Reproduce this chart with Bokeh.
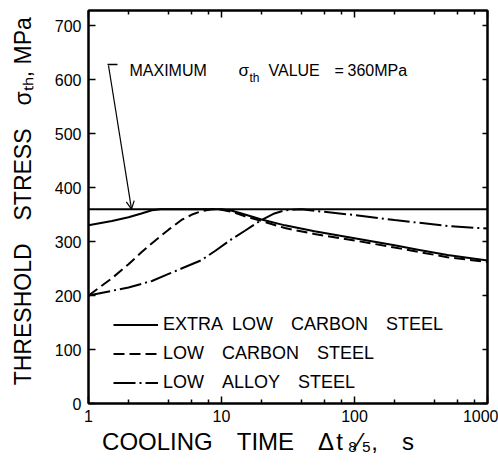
import numpy as np
from bokeh.plotting import figure
from bokeh.models import (LogAxis, LinearAxis, FixedTicker, Span, Label, Arrow, OpenHead,
                          Legend, LegendItem, CustomJSTickFormatter)
from bokeh.embed import file_html
from bokeh.resources import INLINE

# ---------------- data ----------------
elc_t = [1, 1.5, 2, 2.5, 3, 3.5, 5, 8, 10, 12, 15, 20, 30, 50, 100, 200, 300, 500, 1000]
elc_s = [330, 338, 345, 352, 358, 360, 360, 360, 360, 357, 350, 341, 330, 319, 306, 293, 285, 275, 265]

lc_t = [1, 1.5, 2, 2.5, 3, 4, 5, 6, 7, 8.5, 10, 12, 15, 20, 30, 50, 100, 200, 300, 500, 1000]
lc_s = [200, 232, 258, 280, 297, 322, 340, 350, 356, 360, 359, 355, 347, 338, 325, 314, 302, 289, 281, 271, 262]

la_t = [1, 2, 3, 4, 5, 7, 9, 12, 15, 20, 25, 30, 40, 50, 100, 200, 300, 500, 1000]
la_s = [200, 215, 227, 240, 250, 265, 283, 305, 320, 340, 352, 358, 360, 357, 349, 340, 335, 329, 324]

series_names = ["EXTRA\u2002LOW\u2003CARBON\u2003STEEL",
                "LOW\u2003CARBON\u2003STEEL",
                "LOW\u2003ALLOY\u2003STEEL"]

MAX_STH = 360
X_TICKS = [1, 10, 100, 1000]
X_TICK_LABELS = ["1", "10", "100", "1000"]
X_MINOR = [2, 4, 6, 8, 20, 40, 60, 80, 200, 400, 600, 800]
Y_TICKS = [0, 100, 200, 300, 400, 500, 600, 700]
X_MIN, X_MAX = 1, 1000
Y_MIN, Y_MAX = 0, 728

X_TITLE = ("COOLING\u2003TIME\u2003\u0394\u200at\u2009\u2088\u2044\u2085,\u2003s"
           + "\u2003\u2003\u2002")
Y_TITLE = "\u2002THRESHOLD\u2003STRESS\u2003\u03c3\u209c\u2095, MPa"

FONT = "Liberation Sans"
W, H = 498, 466

# frame geometry (pixels) used to place annotation text
FL, FR, FT, FB = 88, 487, 10, 403


def dx(px):
    return 10 ** ((px - FL) / (FR - FL) * np.log10(X_MAX / X_MIN)) * X_MIN


def dy(py):
    return Y_MIN + (FB - py) / (FB - FT) * (Y_MAX - Y_MIN)


p = figure(width=W, height=H, x_axis_type="log",
           x_range=(X_MIN, X_MAX), y_range=(Y_MIN, Y_MAX),
           output_backend="svg", toolbar_location=None,
           min_border_left=FL, min_border_right=W - FR,
           min_border_top=FT, min_border_bottom=H - FB,
           background_fill_color="white", border_fill_color="white")
p.grid.visible = False
p.outline_line_color = "black"
p.outline_line_width = 2

label_map = dict(zip([str(t) for t in X_TICKS], X_TICK_LABELS))
xa = p.xaxis[0]
xa.ticker = FixedTicker(ticks=X_TICKS, minor_ticks=X_MINOR)
xa.formatter = CustomJSTickFormatter(args=dict(m=label_map),
                                     code="const k = String(Math.round(tick)); return (k in m) ? m[k] : '';")
ya = p.yaxis[0]
ya.ticker = FixedTicker(ticks=Y_TICKS)

for ax in (xa, ya):
    ax.axis_line_width = 2
    ax.major_tick_in = 7
    ax.major_tick_out = 0
    ax.minor_tick_in = 4
    ax.minor_tick_out = 0
    ax.major_tick_line_width = 1.5
    ax.minor_tick_line_width = 1.5
    ax.major_label_text_font = FONT
    ax.major_label_text_font_size = "16px"
    ax.major_label_text_color = "black"
    ax.axis_label_text_font = FONT
    ax.axis_label_text_font_style = "normal"
    ax.axis_label_text_color = "black"
xa.axis_label_text_font_size = "24px"
ya.axis_label_text_font_size = "23px"
xa.major_label_standoff = 6
ya.major_label_standoff = 7
xa.axis_label = X_TITLE
ya.axis_label = Y_TITLE
xa.axis_label_standoff = 3
ya.axis_label_standoff = 16

empty = CustomJSTickFormatter(code="return '';")
top = LogAxis(ticker=FixedTicker(ticks=X_TICKS, minor_ticks=X_MINOR), formatter=empty,
              major_tick_in=7, major_tick_out=0, minor_tick_in=4, minor_tick_out=0,
              axis_line_width=2, major_tick_line_width=1.5, minor_tick_line_width=1.5,
              major_label_text_font_size="1px", major_label_standoff=0)
p.add_layout(top, "above")
right = LinearAxis(ticker=FixedTicker(ticks=Y_TICKS), formatter=empty,
                   major_tick_in=5, major_tick_out=0, minor_tick_in=0, minor_tick_out=0,
                   axis_line_width=2, major_tick_line_width=1.5,
                   major_label_text_font_size="1px", major_label_standoff=0)
p.add_layout(right, "right")

# maximum value line
p.add_layout(Span(location=MAX_STH, dimension="width", line_color="black", line_width=2))

r1 = p.line(elc_t, elc_s, line_color="black", line_width=2)
r2 = p.line(lc_t, lc_s, line_color="black", line_width=2, line_dash="11 5")
r3 = p.line(la_t, la_s, line_color="black", line_width=2, line_dash="22 4 2 4")

legend = Legend(items=[LegendItem(label=series_names[0], renderers=[r1]),
                       LegendItem(label=series_names[1], renderers=[r2]),
                       LegendItem(label=series_names[2], renderers=[r3])],
                location=(25, 10), padding=0, margin=0, spacing=8,
                glyph_width=45, glyph_height=19, label_height=19, label_standoff=5,
                label_text_font=FONT, label_text_font_size="18px",
                label_text_color="black",
                border_line_color=None, background_fill_alpha=0)
p.add_layout(legend)


def lab(text, px, py, size, align="left"):
    p.add_layout(Label(x=dx(px), y=dy(py), text=text,
                       text_align=align, text_baseline="alphabetic",
                       text_font=FONT, text_font_size=f"{size}px", text_color="black"))


# annotation
lab("MAXIMUM", 129, 70, 16)
lab("\u03c3", 238, 70, 17)
lab("th", 249, 77, 12)
lab("VALUE", 268, 70, 16)
lab("=", 334, 70, 16)
lab("360MPa", 347, 70, 16)
p.add_layout(Arrow(end=OpenHead(size=8, line_width=1.2, line_color="black"),
                   x_start=dx(108), y_start=dy(65), x_end=dx(131), y_end=MAX_STH,
                   line_width=1.2, line_color="black"))
p.add_layout(Arrow(end=None, x_start=dx(107), y_start=dy(64), x_end=dx(117), y_end=dy(64),
                   line_width=1.5, line_color="black"))

open("out.html", "w").write(file_html(p, INLINE))
